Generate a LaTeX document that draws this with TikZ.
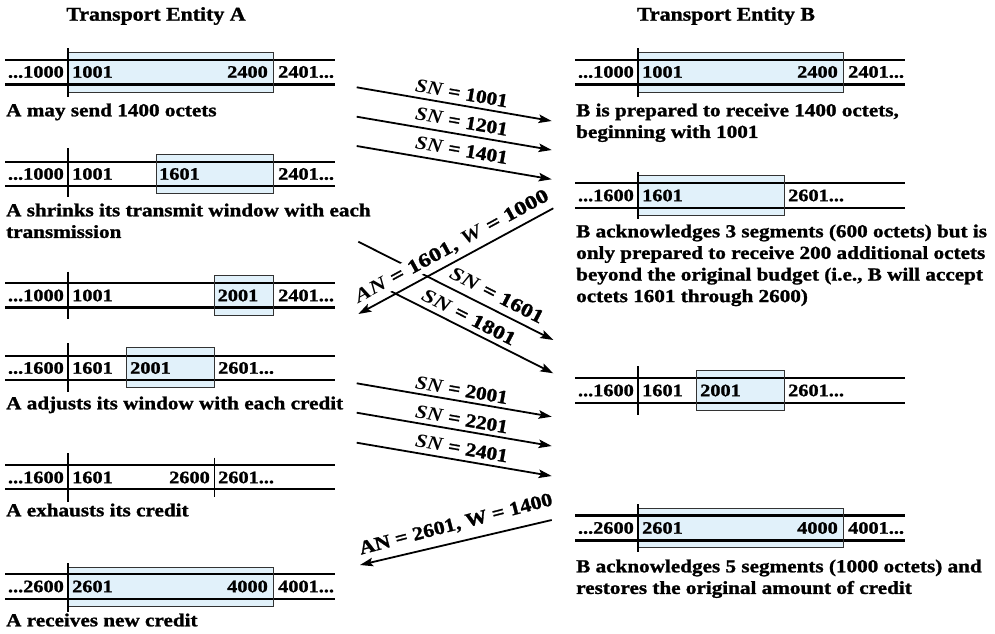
\documentclass[tikz,border=0pt]{standalone}
\usepackage{fontspec}
\setmainfont{Liberation Serif}[BoldFeatures={FakeBold=1.2}]
\usepackage{graphicx}
\usetikzlibrary{arrows.meta}
\definecolor{winfill}{HTML}{E1F1FA}
\definecolor{winedge}{HTML}{333333}
\newcommand\hs[1]{\scalebox{1.16}[1]{#1}}
\newcommand\hl[1]{\scalebox{1.15}[1]{#1}}
\newcommand\ml[1]{\hl{\begin{tabular}{@{}l@{}}#1\end{tabular}}}
\newcommand\numfont{\fontsize{17.5}{20}\selectfont\bfseries}
\newcommand\labfont{\fontsize{18.4}{21.6}\selectfont\bfseries}
\newcommand\arrfont{\fontsize{19.2}{22}\selectfont\bfseries}
\tikzset{
  tape/.style={line width=2.3pt},
  divider/.style={line width=2pt},
  edge/.style={draw=winedge, line width=0.9pt},
  num/.style={inner sep=0pt, font=\numfont},
  lab/.style={inner sep=0pt, anchor=north west, font=\labfont, align=left},
  ttl/.style={inner sep=0pt, font=\fontsize{19.5}{22}\selectfont\bfseries},
  msg/.style={line width=1.8pt, -{Stealth[length=13pt,width=8.5pt,inset=2.5pt]}},
  alab/.style={inner sep=1.5pt, font=\arrfont}
}
\begin{document}
\begin{tikzpicture}[x=1pt,y=-1pt]
\useasboundingbox (0,0) rectangle (995,633);
% titles
\node[ttl] (tA) at (156,16) {\scalebox{1.12}[1]{Transport Entity A}};
\node[ttl] (tB) at (726,16) {\scalebox{1.12}[1]{Transport Entity B}};

% A1  y0=60
\fill[winfill] (68,52.7) rectangle (273,92.3);
\draw[tape] (5,60) -- (335,60) (5,84.5) -- (335,84.5);
\draw[edge] (68,52.7) rectangle (273,92.3);
\draw[divider] (68,48) -- (68,97);
\node[num, anchor=east] (a1l) at (64,72) {\hs{...1000}};
\node[num, anchor=west] (a1a) at (72,72) {\hs{1001}};
\node[num, anchor=east] (a1b) at (268,72) {\hs{2400}};
\node[num, anchor=west] (a1r) at (278,72) {\hs{2401...}};
\node[lab] (la1) at (6,101) {\ml{A may send 1400 octets}};

% A2  y0=161.7
\fill[winfill] (156,154) rectangle (273,193);
\draw[tape] (5,161.7) -- (335,161.7) (5,186) -- (335,186);
\draw[edge] (156,154) rectangle (273,193);
\draw[divider] (68,148) -- (68,197);
\node[num, anchor=east] (a2l) at (64,174) {\hs{...1000}};
\node[num, anchor=west] (a2a) at (72,174) {\hs{1001}};
\node[num, anchor=west] (a2b) at (159,174) {\hs{1601}};
\node[num, anchor=west] (a2r) at (278,174) {\hs{2401...}};
\node[lab] (la2) at (6,201) {\ml{A shrinks its transmit window with each\\transmission}};

% A3  y0=283
\fill[winfill] (214.4,275.7) rectangle (273,315);
\draw[tape] (5,283) -- (335,283) (5,307.5) -- (335,307.5);
\draw[edge] (214.4,275.7) rectangle (273,315);
\draw[divider] (68,271.7) -- (68,319);
\node[num, anchor=east] (a3l) at (64,295.5) {\hs{...1000}};
\node[num, anchor=west] (a3a) at (72,295.5) {\hs{1001}};
\node[num, anchor=west] (a3b) at (217.5,295.5) {\hs{2001}};
\node[num, anchor=west] (a3r) at (278,295.5) {\hs{2401...}};

% A4  y0=355.7
\fill[winfill] (126.6,347.7) rectangle (214.4,387);
\draw[tape] (5,355.7) -- (335,355.7) (5,380) -- (335,380);
\draw[edge] (126.6,347.7) rectangle (214.4,387);
\draw[divider] (68,343) -- (68,392);
\node[num, anchor=east] (a4l) at (64,368) {\hs{...1600}};
\node[num, anchor=west] (a4a) at (72,368) {\hs{1601}};
\node[num, anchor=west] (a4b) at (130,368) {\hs{2001}};
\node[num, anchor=west] (a4r) at (218,368) {\hs{2601...}};
\node[lab] (la4) at (6,394) {\ml{A adjusts its window with each credit}};

% A5  y0=465
\draw[tape] (5,465) -- (335,465) (5,489.3) -- (335,489.3);
\draw[divider] (68,453) -- (68,501.7);
\draw[line width=1.3pt] (214.4,457.7) -- (214.4,496.7);
\node[num, anchor=east] (a5l) at (64,477.5) {\hs{...1600}};
\node[num, anchor=west] (a5a) at (72,477.5) {\hs{1601}};
\node[num, anchor=east] (a5b) at (210,477.5) {\hs{2600}};
\node[num, anchor=west] (a5r) at (218,477.5) {\hs{2601...}};
\node[lab] (la5) at (6,501) {\ml{A exhausts its credit}};

% A6  y0=574
\fill[winfill] (68,567.3) rectangle (273,606.7);
\draw[tape] (5,574) -- (335,574) (5,599) -- (335,599);
\draw[edge] (68,567.3) rectangle (273,606.7);
\draw[divider] (68,563) -- (68,611.7);
\node[num, anchor=east] (a6l) at (64,586.5) {\hs{...2600}};
\node[num, anchor=west] (a6a) at (72,586.5) {\hs{2601}};
\node[num, anchor=east] (a6b) at (268,586.5) {\hs{4000}};
\node[num, anchor=west] (a6r) at (278,586.5) {\hs{4001...}};
\node[lab] (la6) at (6,611) {\ml{A receives new credit}};

% ===== B side (x offset 570) =====
% B1
\fill[winfill] (638,52.7) rectangle (843,92.3);
\draw[tape] (575,60) -- (905,60) (575,84.5) -- (905,84.5);
\draw[edge] (638,52.7) rectangle (843,92.3);
\draw[divider] (638,48) -- (638,97);
\node[num, anchor=east] (b1l) at (634,72) {\hs{...1000}};
\node[num, anchor=west] (b1a) at (642,72) {\hs{1001}};
\node[num, anchor=east] (b1b) at (838,72) {\hs{2400}};
\node[num, anchor=west] (b1r) at (848,72) {\hs{2401...}};
\node[lab] (lb1) at (576,101) {\ml{B is prepared to receive 1400 octets,\\beginning with 1001}};

% B2  y0=183.3
\fill[winfill] (638,175.7) rectangle (784.4,215);
\draw[tape] (575,183.3) -- (905,183.3) (575,207.7) -- (905,207.7);
\draw[edge] (638,175.7) rectangle (784.4,215);
\draw[divider] (638,171.7) -- (638,219);
\node[num, anchor=east] (b2l) at (634,195.5) {\hs{...1600}};
\node[num, anchor=west] (b2a) at (642,195.5) {\hs{1601}};
\node[num, anchor=west] (b2r) at (788,195.5) {\hs{2601...}};
\node[lab] (lb2) at (576,222) {\ml{B acknowledges 3 segments (600 octets) but is\\only prepared to receive 200 additional octets\\beyond the original budget (i.e., B will accept\\octets 1601 through 2600)}};

% B3  y0=378.3
\fill[winfill] (696.6,370.7) rectangle (784.4,410);
\draw[tape] (575,378.3) -- (905,378.3) (575,402.7) -- (905,402.7);
\draw[edge] (696.6,370.7) rectangle (784.4,410);
\draw[divider] (638,366) -- (638,415);
\node[num, anchor=east] (b3l) at (634,390.5) {\hs{...1600}};
\node[num, anchor=west] (b3a) at (642,390.5) {\hs{1601}};
\node[num, anchor=west] (b3b) at (700,390.5) {\hs{2001}};
\node[num, anchor=west] (b3r) at (788,390.5) {\hs{2601...}};

% B4  y0=515.5
\fill[winfill] (638,508.3) rectangle (843,547.7);
\draw[tape] (575,515.5) -- (905,515.5) (575,540.5) -- (905,540.5);
\draw[edge] (638,508.3) rectangle (843,547.7);
\draw[divider] (638,504) -- (638,551.7);
\node[num, anchor=east] (b4l) at (634,528) {\hs{...2600}};
\node[num, anchor=west] (b4a) at (642,528) {\hs{2601}};
\node[num, anchor=east] (b4b) at (838,528) {\hs{4000}};
\node[num, anchor=west] (b4r) at (848,528) {\hs{4001...}};
\node[lab] (lb4) at (576,557) {\ml{B acknowledges 5 segments (1000 octets) and\\restores the original amount of credit}};

% ===== messages =====
\coordinate (s1a) at (356.7,87.3);  \coordinate (s1b) at (551.7,121);
\coordinate (s2a) at (356.7,116.7); \coordinate (s2b) at (551.7,150);
\coordinate (s3a) at (356.7,146);   \coordinate (s3b) at (551.7,179.3);
\draw[msg] (s1a) -- (s1b);
\draw[msg] (s2a) -- (s2b);
\draw[msg] (s3a) -- (s3b);
\node[alab, rotate=-9.8] (m1) at (461.7,93.3) {\scalebox{1.11}[1]{\textit{SN} = 1001}};
\node[alab, rotate=-9.8] (m2) at (461.7,121.7) {\scalebox{1.11}[1]{\textit{SN} = 1201}};
\node[alab, rotate=-9.8] (m3) at (461.7,150) {\scalebox{1.11}[1]{\textit{SN} = 1401}};

\coordinate (s4a) at (358.3,241.7); \coordinate (s4b) at (553.3,340);
\coordinate (s5a) at (384,287.8);   \coordinate (s5b) at (553.3,373.3);
\draw[msg] (s4a) -- (s4b);
\draw[msg] (s5a) -- (s5b);
\node[alab, rotate=-27] (m4) at (497,295) {\scalebox{1.22}[1]{\textit{SN} = 1601}};
\node[alab, rotate=-27] (m5) at (469,317) {\scalebox{1.22}[1]{\textit{SN} = 1801}};
\coordinate (k1a) at (553.3,208.3); \coordinate (k1b) at (358.3,314);
\node[alab, rotate=28.5, fill=white, inner sep=2pt] (k1) at (452,247) {\scalebox{1.26}[1]{\textit{AN} = 1601, \textit{W} = 1000}};
\draw[msg] (k1a) -- (k1b);

\coordinate (s6a) at (356.7,383.3); \coordinate (s6b) at (551.7,416.7);
\coordinate (s7a) at (356.7,412.7); \coordinate (s7b) at (551.7,446);
\coordinate (s8a) at (356.7,442.7); \coordinate (s8b) at (551.7,476);
\draw[msg] (s6a) -- (s6b);
\draw[msg] (s7a) -- (s7b);
\draw[msg] (s8a) -- (s8b);
\node[alab, rotate=-9.8] (m6) at (461.7,390) {\scalebox{1.11}[1]{\textit{SN} = 2001}};
\node[alab, rotate=-9.8] (m7) at (461.7,419.3) {\scalebox{1.11}[1]{\textit{SN} = 2201}};
\node[alab, rotate=-9.8] (m8) at (461.7,448.3) {\scalebox{1.11}[1]{\textit{SN} = 2401}};

\coordinate (k2a) at (551.7,520); \coordinate (k2b) at (360,565);
\draw[msg] (k2a) -- (k2b);
\node[alab, rotate=14.5] (k2) at (456,525) {\scalebox{1.14}[1]{AN = 2601, W = 1400}};
\end{tikzpicture}
\end{document}
